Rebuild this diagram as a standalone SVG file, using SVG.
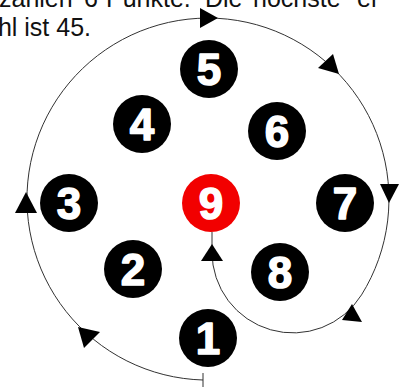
<svg xmlns="http://www.w3.org/2000/svg" width="400" height="387" viewBox="0 0 400 387">
<style>
.t{font-family:"Liberation Sans",Arial,sans-serif;font-size:25px;fill:#111}
.n circle{fill:#000}
.n text{font-family:"Liberation Sans",Arial,sans-serif;font-weight:bold;font-size:44px;fill:#fff;stroke:#fff;stroke-width:1.5;stroke-linejoin:round;text-anchor:middle}
.red circle{fill:#f20000}
.c{fill:none;stroke:#333;stroke-width:1}
.a{fill:#000}
</style>
<rect width="400" height="387" fill="#fff"/>
<text class="t" y="7"><tspan x="-1">zahlen</tspan><tspan x="84">6</tspan><tspan x="106">Punkte.</tspan><tspan x="205">Die</tspan><tspan x="253">höchste</tspan><tspan x="357">er</tspan></text>
<text class="t" x="91" y="36" text-anchor="end">hl ist 45.</text>
<g id="connectors">
<path class="c" d="M203,380 A181,181 0 1 1 361.5,294.9 A80.9,80.9 0 0 1 212,252 L212,232"/>
<line class="c" x1="203" y1="373" x2="203" y2="387"/>
<polygon class="a" points="78,327 100,332 84,348"/>
<polygon class="a" points="15,213 26,192 37,213"/>
<polygon class="a" points="200,8 218,18 200,28"/>
<polygon class="a" points="318,68 333,54 339,74"/>
<polygon class="a" points="380,184 399,184 389,203"/>
<polygon class="a" points="342,320 352,304 362,322"/>
<polygon class="a" points="201,261 212,244 223,261"/>
</g>
<g id="n1" class="n"><circle cx="208" cy="338" r="29"/><text x="208" y="354">1</text></g>
<g id="n2" class="n"><circle cx="133" cy="269" r="29"/><text x="133" y="285">2</text></g>
<g id="n3" class="n"><circle cx="69" cy="203" r="29"/><text x="69" y="219">3</text></g>
<g id="n4" class="n"><circle cx="142" cy="124" r="29"/><text x="142" y="140">4</text></g>
<g id="n5" class="n"><circle cx="209" cy="69" r="29"/><text x="209" y="85">5</text></g>
<g id="n6" class="n"><circle cx="277" cy="131" r="29"/><text x="277" y="147">6</text></g>
<g id="n7" class="n"><circle cx="345" cy="203" r="29"/><text x="345" y="219">7</text></g>
<g id="n8" class="n"><circle cx="280" cy="272" r="29"/><text x="280" y="288">8</text></g>
<g id="n9" class="n red"><circle cx="211" cy="203" r="29"/><text x="211" y="219">9</text></g>
</svg>
